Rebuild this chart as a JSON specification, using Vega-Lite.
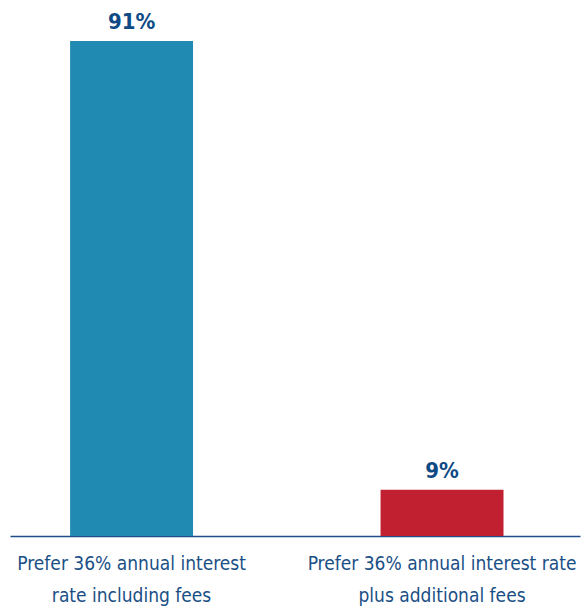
{
  "$schema": "https://vega.github.io/schema/vega-lite/v6.json",
  "width": 570,
  "height": 495,
  "autosize": {"type": "none"},
  "padding": {"left": 10, "top": 41, "right": 8, "bottom": 73},
  "background": "white",
  "data": {
    "values": [
      {"choice": "Prefer 36% annual interest|rate including fees", "share": 91, "label": "91%"},
      {"choice": "Prefer 36% annual interest rate|plus additional fees", "share": 8.5, "label": "9%"}
    ]
  },
  "encoding": {
    "x": {
      "field": "choice",
      "type": "nominal",
      "sort": null,
      "scale": {"paddingInner": 0.604, "paddingOuter": 0.22, "align": 0.44},
      "axis": {
        "title": null,
        "labelAngle": 0,
        "labelExpr": "split(datum.value, '|')",
        "labelFont": "DejaVu Sans Condensed, Liberation Sans, sans-serif",
        "labelFontSize": 19,
        "labelColor": "#1a4f86",
        "labelLineHeight": 32,
        "labelPadding": 18,
        "labelLimit": 400,
        "ticks": false,
        "domainColor": "#1f4e86",
        "domainWidth": 1.5,
        "grid": false
      }
    },
    "y": {
      "field": "share",
      "type": "quantitative",
      "scale": {"domain": [0, 91], "nice": false},
      "axis": null
    }
  },
  "layer": [
    {
      "mark": {"type": "bar"},
      "encoding": {
        "color": {
          "field": "choice",
          "type": "nominal",
          "sort": null,
          "scale": {"range": ["#208ab2", "#c12030"]},
          "legend": null
        }
      }
    },
    {
      "mark": {
        "type": "text",
        "baseline": "bottom",
        "dy": -7,
        "font": "DejaVu Sans Condensed, Liberation Sans, sans-serif",
        "fontWeight": "bold",
        "fontSize": 22,
        "color": "#0e4a84"
      },
      "encoding": {"text": {"field": "label"}}
    }
  ],
  "config": {"view": {"stroke": null}}
}
